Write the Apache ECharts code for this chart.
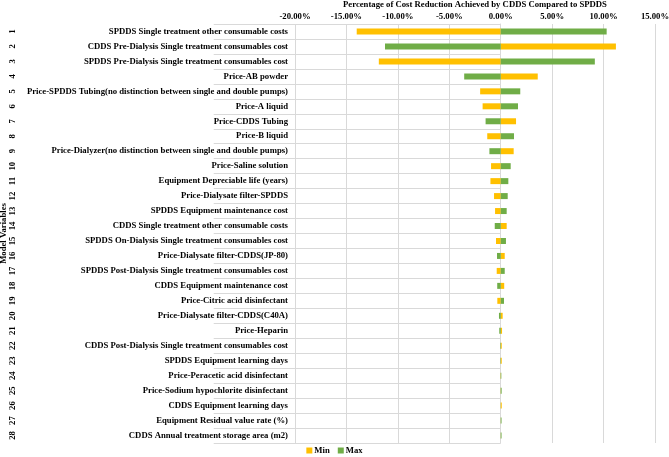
<!DOCTYPE html>
<html>
<head>
<meta charset="utf-8">
<style>
  html, body { margin: 0; padding: 0; background: #fff; }
  #chart { width: 669px; height: 457px; }
</style>
<script src="https://cdn.jsdelivr.net/npm/echarts@6/dist/echarts.min.js"></script>
</head>
<body>
<div id="chart"></div>
<script>
  // model variables, top to bottom
  const variables = [
    'SPDDS Single treatment other consumable costs',
    'CDDS Pre-Dialysis Single treatment consumables cost',
    'SPDDS Pre-Dialysis Single treatment consumables cost',
    'Price-AB powder',
    'Price-SPDDS Tubing(no distinction between single and double pumps)',
    'Price-A liquid',
    'Price-CDDS Tubing',
    'Price-B liquid',
    'Price-Dialyzer(no distinction between single and double pumps)',
    'Price-Saline solution',
    'Equipment Depreciable life (years)',
    'Price-Dialysate filter-SPDDS',
    'SPDDS Equipment maintenance cost',
    'CDDS Single treatment other consumable costs',
    'SPDDS On-Dialysis Single treatment consumables cost',
    'Price-Dialysate filter-CDDS(JP-80)',
    'SPDDS Post-Dialysis Single treatment consumables cost',
    'CDDS Equipment maintenance cost',
    'Price-Citric acid disinfectant',
    'Price-Dialysate filter-CDDS(C40A)',
    'Price-Heparin',
    'CDDS Post-Dialysis Single treatment consumables cost',
    'SPDDS Equipment learning days',
    'Price-Peracetic acid disinfectant',
    'Price-Sodium hypochlorite disinfectant',
    'CDDS Equipment learning days',
    'Equipment Residual value rate (%)',
    'CDDS Annual treatment storage area (m2)'
  ]
  const rowNumbers = variables.map((v, i) => String(i + 1))

  // percentage of cost reduction (%)
  const minValues = [-14.0, 11.2, -11.85, 3.6, -2.0, -1.76, 1.49, -1.31, 1.26, -0.94,
    -1.0, -0.65, -0.55, 0.58, -0.46, 0.39, -0.39, 0.34, -0.33, 0.19,
    0.13, 0.1, 0.1, -0.03, 0.02, 0.1, 0.01, 0.01]
  const maxValues = [10.3, -11.25, 9.15, -3.55, 1.9, 1.68, -1.47, 1.29, -1.1, 0.97,
    0.74, 0.68, 0.58, -0.58, 0.51, -0.36, 0.39, -0.34, 0.32, -0.17,
    -0.14, -0.05, -0.04, 0.06, 0.09, 0.01, 0.08, 0.08]

  const font = 'Liberation Serif'
  const fs = 8.7
  const chart = echarts.init(document.getElementById('chart'))
  chart.setOption({
    animation: false,
    color: ['#FFC000', '#70AD47'],
    textStyle: { fontFamily: font, color: '#000' },
    grid: { left: 295, right: 14, top: 24, bottom: 14, outerBoundsMode: 'none' },
    legend: {
      bottom: -3,
      left: 'center',
      itemWidth: 6,
      itemHeight: 6,
      itemGap: 8,
      icon: 'rect',
      data: ['Min', 'Max'],
      textStyle: { fontFamily: font, fontWeight: 'bold', fontSize: fs, color: '#000', padding: [0, 0, 0, -3] }
    },
    xAxis: {
      type: 'value',
      position: 'top',
      min: -20,
      max: 15,
      interval: 5,
      name: 'Percentage of Cost Reduction Achieved by CDDS Compared to SPDDS',
      nameLocation: 'middle',
      nameGap: 15,
      nameMoveOverlap: false,
      nameTextStyle: { fontFamily: font, fontWeight: 'bold', fontSize: fs, color: '#000' },
      axisLine: { show: false },
      axisTick: { show: false },
      axisLabel: {
        margin: 3,
        fontFamily: font,
        fontWeight: 'bold',
        fontSize: fs,
        color: '#000',
        formatter: function (value) {
          return value.toFixed(2) + '%'
        }
      },
      splitLine: { lineStyle: { color: '#d9d9d9' } }
    },
    yAxis: [
      {
        type: 'category',
        inverse: true,
        data: variables,
        axisLine: { lineStyle: { color: '#d9d9d9' } },
        axisTick: { show: true, length: 287, lineStyle: { color: '#d9d9d9' } },
        axisLabel: {
          margin: 7,
          fontFamily: font,
          fontWeight: 'bold',
          fontSize: fs,
          color: '#000'
        }
      },
      {
        type: 'category',
        inverse: true,
        position: 'left',
        offset: 278,
        data: rowNumbers,
        axisLine: { show: false },
        axisTick: { show: false },
        axisLabel: {
          margin: 0,
          rotate: 90,
          fontFamily: font,
          fontWeight: 'bold',
          fontSize: fs,
          color: '#000'
        },
        name: 'Model Variables',
        nameLocation: 'middle',
        nameRotate: 90,
        nameGap: 9,
        nameMoveOverlap: false,
        nameTextStyle: { fontFamily: font, fontWeight: 'bold', fontSize: fs, color: '#000' }
      }
    ],
    series: [
      {
        name: 'Min',
        type: 'bar',
        barWidth: 6,
        barGap: '-100%',
        data: minValues
      },
      {
        name: 'Max',
        type: 'bar',
        barWidth: 6,
        barGap: '-100%',
        data: maxValues
      }
    ]
  })
</script>
</body>
</html>
